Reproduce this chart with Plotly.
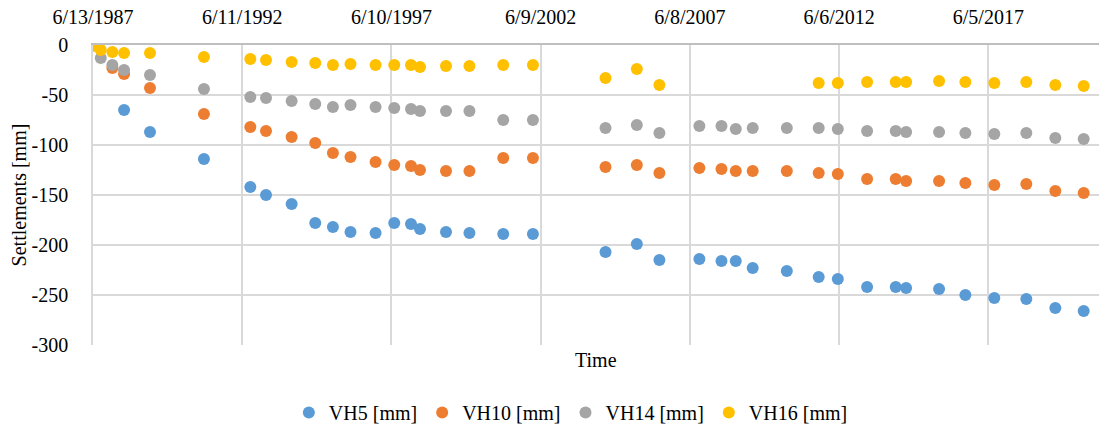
import plotly.graph_objects as go

dates = [
    "1987-06-13", "1987-09-16", "1988-02-05", "1988-06-27", "1989-05-10",
    "1991-03-01", "1992-09-18", "1993-03-29", "1994-02-05", "1994-11-21",
    "1995-06-25", "1996-01-26", "1996-11-28", "1997-07-14", "1998-02-04",
    "1998-05-25", "1999-04-08", "2000-01-20", "2001-03-08", "2002-03-06",
    "2004-08-10", "2005-08-28", "2006-05-31", "2007-10-02", "2008-06-28",
    "2008-12-20", "2009-07-15", "2010-09-05", "2011-09-30", "2012-05-21",
    "2013-05-14", "2014-04-29", "2014-09-03", "2015-10-11", "2016-08-28",
    "2017-08-17", "2018-09-12", "2019-09-02", "2020-08-14",
]

vh5 = [0, None, None, -65, -87, -114, -142, -150, -159, -178,
       -182, -187, -188, -178, -179, -184, -187, -188, -189, -189,
       -207, -199, -215, -214, -216, -216, -223, -226, -232, -234,
       -242, -242, -243, -244, -250, -253, -254, -263, -266]

vh10 = [0, None, -23, -29, -43, -69, -82, -86, -92, -98,
        -108, -112, -117, -120, -121, -125, -126, -126, -113, -113,
        -122, -120, -128, -123, -124, -126, -126, -126, -128, -129,
        -134, -134, -136, -136, -138, -140, -139, -146, -148]

vh14 = [0, -13, -20, -25, -30, -44, -52, -53, -56, -59,
        -62, -60, -62, -63, -64, -66, -66, -66, -75, -75,
        -83, -80, -88, -81, -81, -84, -83, -83, -83, -84,
        -86, -86, -87, -87, -88, -89, -88, -93, -94]

vh16 = [-1, -5, -7, -8, -8, -12, -14, -15, -17, -18,
        -20, -19, -20, -20, -20, -22, -21, -21, -20, -20,
        -33, -24, -40, None, None, None, None, None, -38, -38,
        -37, -37, -37, -36, -37, -38, -37, -40, -41]

series_names = ["VH5 [mm]", "VH10 [mm]", "VH14 [mm]", "VH16 [mm]"]
series_values = [vh5, vh10, vh14, vh16]
colors = ["#5B9BD5", "#ED7D31", "#A5A5A5", "#FFC000"]

x_tick_vals = ["1987-06-13", "1992-06-11", "1997-06-10", "2002-06-09",
               "2007-06-08", "2012-06-06", "2017-06-05"]
x_tick_text = ["6/13/1987", "6/11/1992", "6/10/1997", "6/9/2002",
               "6/8/2007", "6/6/2012", "6/5/2017"]

y_tick_vals = [0, -50, -100, -150, -200, -250, -300]
y_tick_text = ["0", "-50", "-100", "-150", "-200", "-250", "-300"]

FF = "Liberation Serif"


def f(size=20):
    return dict(family=FF, size=size, color="#000000")


fig = go.Figure()
for name, vals, col in zip(series_names, series_values, colors):
    fig.add_trace(go.Scatter(
        x=dates, y=vals, name=name, mode="markers",
        marker=dict(size=12, color=col, line=dict(width=0)),
    ))

fig.update_layout(
    width=1099, height=434,
    margin=dict(l=93, r=0, t=45, b=89),
    paper_bgcolor="white", plot_bgcolor="white",
    font=f(),
    showlegend=True,
    legend=dict(orientation="h", x=0.475, xanchor="center", y=-0.225, yanchor="middle",
                font=f(), itemwidth=30, tracegroupgap=0),
    xaxis=dict(
        type="date", side="top", automargin=False,
        range=["1987-06-13", "2021-02-17"],
        tickmode="array", tickvals=x_tick_vals, ticktext=x_tick_text,
        showgrid=True, gridcolor="#D9D9D9", gridwidth=1.5,
        showline=True, linecolor="#BFBFBF", linewidth=1.5,
        ticks="", ticklabelstandoff=11,
        tickfont=f(),
        zeroline=False,
    ),
    yaxis=dict(
        range=[-300, 0], automargin=False,
        tickmode="array", tickvals=y_tick_vals, ticktext=y_tick_text,
        showgrid=True, gridcolor="#D9D9D9", gridwidth=1.5,
        showline=True, linecolor="#D9D9D9", linewidth=1.5,
        zeroline=False,
        ticks="", ticklabelstandoff=19,
        tickfont=f(),
        title=dict(text="Settlements [mm]", font=f(), standoff=0),
    ),
    annotations=[dict(
        text="Time", x=0.5, y=-0.05, xref="paper", yref="paper",
        xanchor="center", yanchor="middle", showarrow=False,
        font=f(),
    )],
)

fig.write_html("out.html", config={"displayModeBar": False},
               post_script="document.body.style.margin='0';")
